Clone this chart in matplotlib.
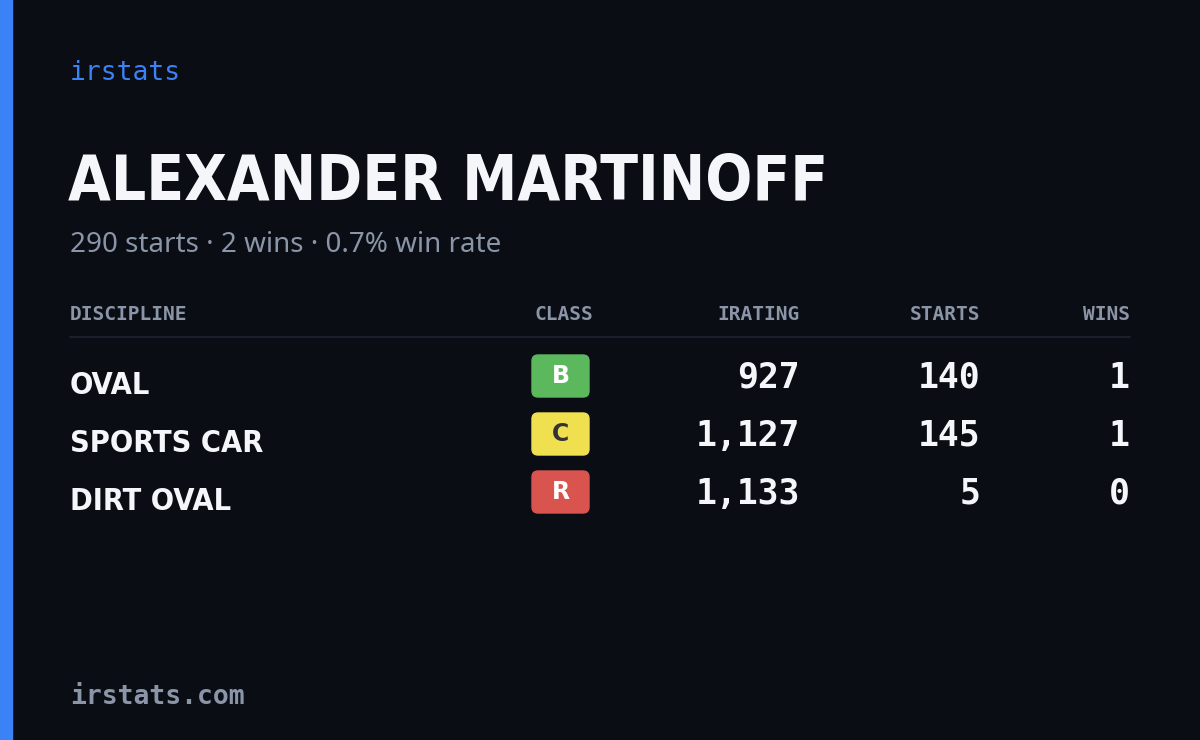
import matplotlib
matplotlib.use("Agg")
import matplotlib.pyplot as plt
from matplotlib.patches import FancyBboxPatch, Rectangle

brand = "irstats"
driver = "ALEXANDER MARTINOFF"
summary = "290 starts · 2 wins · 0.7% win rate"
headers = ["DISCIPLINE", "CLASS", "IRATING", "STARTS", "WINS"]
disciplines = ["OVAL", "SPORTS CAR", "DIRT OVAL"]
classes = ["B", "C", "R"]
iratings = [927, 1127, 1133]
starts = [140, 145, 5]
wins = [1, 1, 0]
footer = "irstats.com"

W, H = 1200, 740
fig = plt.figure(figsize=(12, 7.4), dpi=100)
fig.patch.set_facecolor("#0a0d14")
ax = fig.add_axes([0, 0, 1, 1])
ax.set_xlim(0, W); ax.set_ylim(H, 0); ax.axis("off")
ax.add_patch(Rectangle((0, 0), 12, H, color="#3b82f6"))

mono = "DejaVu Sans Mono"
cond = "DejaVu Sans"
ax.text(70, 73, brand, family=mono, fontsize=19, color="#3b82f6", va="center")
t = ax.text(68, 183, driver, family=cond, fontweight="bold", fontstretch="condensed", fontsize=60, color="#f5f6fa", va="center")
fig.canvas.draw()
bb = t.get_window_extent()
if bb.width > 760:
    t.set_fontsize(60 * 760 / bb.width)
ax.text(70, 245, summary, family="Noto Sans", fontsize=20, color="#8b95a8", va="center")

hx = [70, 593, 800, 980, 1130]
ha = ["left", "right", "right", "right", "right"]
for x, h, a in zip(hx, headers, ha):
    ax.text(x, 314, h, family=mono, fontsize=14, fontweight="bold", color="#8b95a8", ha=a, va="center")
ax.plot([70, 1130], [337, 337], color="#1e2330", lw=1.2)

ccol = {"B": "#5cb85c", "C": "#f0e050", "R": "#d9534f"}
ctxt = {"B": "white", "C": "#333333", "R": "white"}
for i in range(3):
    y = 378 + i * 58
    ax.text(70, y + 7, disciplines[i], family=cond, fontweight="bold", fontstretch="condensed", fontsize=22, color="#f5f6fa", va="center")
    c = classes[i]
    ax.add_patch(FancyBboxPatch((532, y - 23), 57, 42, boxstyle="round,pad=0,rounding_size=6", color=ccol[c]))
    ax.text(560.5, y - 2, c, family="DejaVu Sans", fontweight="bold", fontsize=17, color=ctxt[c], ha="center", va="center")
    for x, v in [(800, f"{iratings[i]:,}"), (980, f"{starts[i]}"), (1130, f"{wins[i]}")]:
        ax.text(x, y, v, family=mono, fontsize=25, fontweight="bold", color="#f5f6fa", ha="right", va="center")

ax.text(70, 697, footer, family=mono, fontsize=19, fontweight="bold", color="#8b95a8", va="center")
fig.savefig("out.png", dpi=100, facecolor=fig.get_facecolor())
